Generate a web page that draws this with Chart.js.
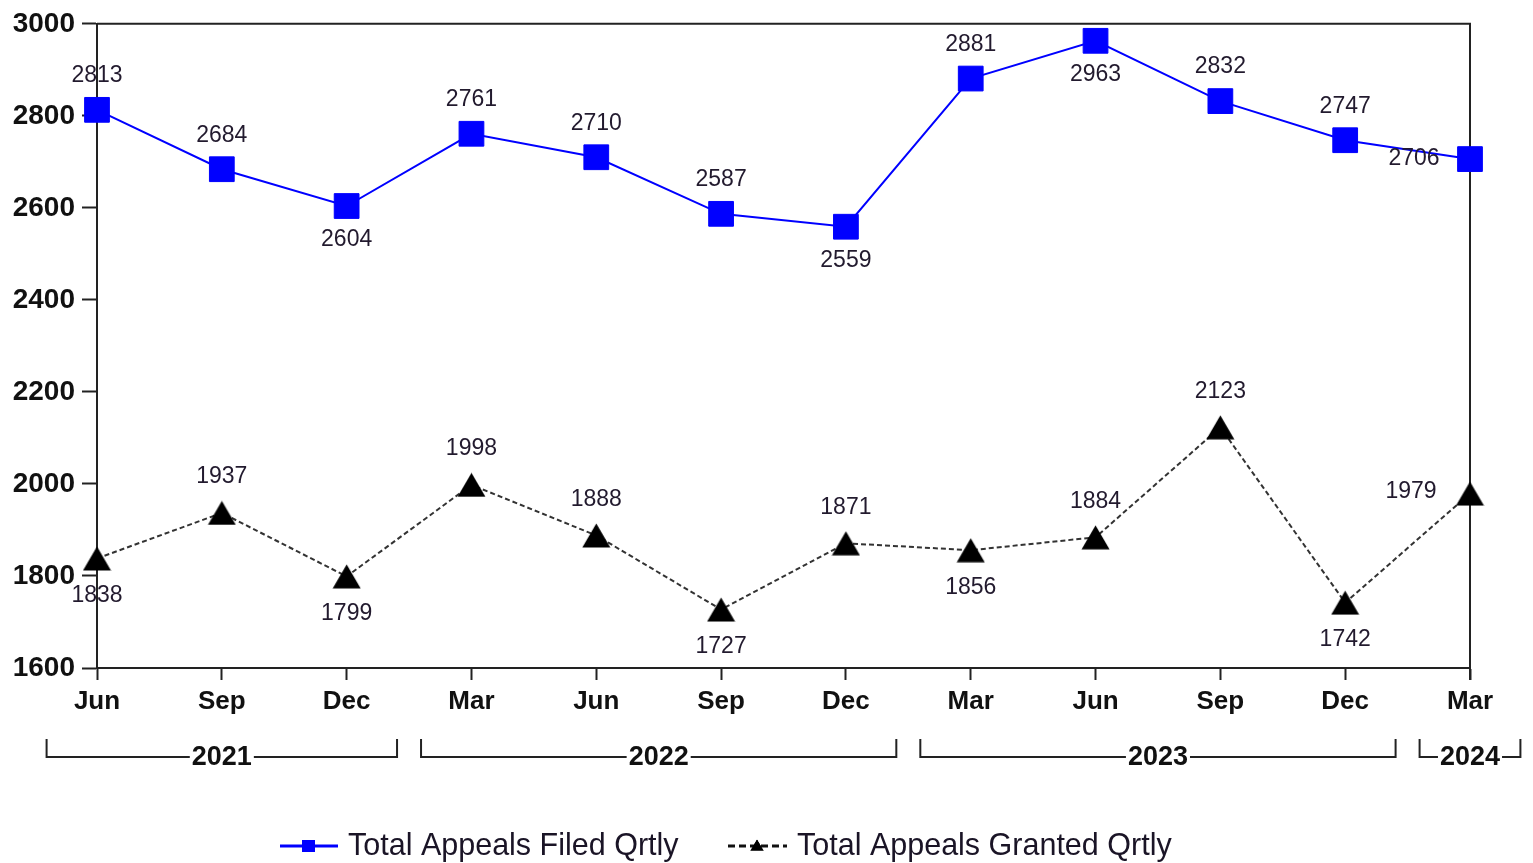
<!DOCTYPE html>
<html>
<head>
<meta charset="utf-8">
<script src="https://cdn.jsdelivr.net/npm/chart.js@4.4.1/dist/chart.umd.min.js"></script>
<style>
  body { margin: 0; background: #fff; }
  #wrap { width: 1533px; height: 863px; }
</style>
</head>
<body>
<div id="wrap"><canvas id="appealsChart"></canvas></div>
<script>
// quarter labels and the year each quarter belongs to
const quarters = ['Jun', 'Sep', 'Dec', 'Mar', 'Jun', 'Sep', 'Dec', 'Mar', 'Jun', 'Sep', 'Dec', 'Mar'];
const years = ['2021', '2021', '2021', '2022', '2022', '2022', '2022', '2023', '2023', '2023', '2023', '2024'];

const filedQrtly = [2813, 2684, 2604, 2761, 2710, 2587, 2559, 2881, 2963, 2832, 2747, 2706];
const grantedQrtly = [1838, 1937, 1799, 1998, 1888, 1727, 1871, 1856, 1884, 2123, 1742, 1979];

const yTicks = [1600, 1800, 2000, 2200, 2400, 2600, 2800, 3000];

// where each value label sits relative to its point
const filedLabelPos = ['up', 'up', 'down', 'up', 'up', 'up', 'down', 'up', 'down', 'up', 'up', 'left'];
const grantedLabelPos = ['down', 'up', 'down', 'up', 'up', 'down', 'up', 'down', 'up', 'up', 'down', 'leftup'];

const FONT = '"Liberation Sans", Arial, sans-serif';

function makeTriangle(w, h) {
    const c = document.createElement('canvas');
    c.width = w; c.height = h;
    const ctx = c.getContext('2d');
    ctx.fillStyle = '#000';
    ctx.beginPath();
    ctx.moveTo(w / 2, 0.5);
    ctx.lineTo(w - 0.5, h - 0.5);
    ctx.lineTo(0.5, h - 0.5);
    ctx.closePath();
    ctx.fill();
    return c;
}
const triMarker = makeTriangle(29, 25);

const valueLabels = {
    id: 'valueLabels',
    afterDatasetsDraw(chart) {
        const ctx = chart.ctx;
        ctx.save();
        ctx.font = '23px ' + FONT;
        ctx.fillStyle = '#221a2e';
        ctx.textAlign = 'center';
        ctx.textBaseline = 'middle';
        const posList = [filedLabelPos, grantedLabelPos];
        chart.data.datasets.forEach(function (ds, di) {
            const meta = chart.getDatasetMeta(di);
            meta.data.forEach(function (pt, i) {
                const txt = String(ds.data[i]);
                let x = pt.x, y = pt.y;
                const p = posList[di][i];
                if (p == 'up') { y -= (di == 0 ? 34 : 36); }
                else if (p == 'down') { y += (di == 0 ? 34 : 37); }
                else if (p == 'left') { x -= 56; }
                else if (p == 'leftup') { x -= 59; y -= 2; }
                ctx.fillText(txt, x, y);
            });
        });
        ctx.restore();
    }
};

const frameAndExtras = {
    id: 'frameAndExtras',
    beforeDatasetsDraw(chart) {
        const ctx = chart.ctx;
        const a = chart.chartArea;
        ctx.save();
        ctx.strokeStyle = '#222';
        ctx.lineWidth = 2;
        ctx.beginPath();
        ctx.moveTo(a.left, a.top);
        ctx.lineTo(a.right, a.top);
        ctx.lineTo(a.right, a.bottom + 12);
        ctx.stroke();
        ctx.restore();
    },
    afterDraw(chart) {
        const ctx = chart.ctx;
        const xs = chart.scales.x;
        const step = xs.getPixelForValue(1) - xs.getPixelForValue(0);
        ctx.save();

        // year brackets
        const yLine = 757, yTop = 739, gap = 12;
        ctx.strokeStyle = '#222';
        ctx.lineWidth = 2;
        ctx.font = 'bold 27px ' + FONT;
        ctx.fillStyle = '#111';
        ctx.textAlign = 'center';
        ctx.textBaseline = 'middle';
        let start = 0;
        for (let i = 1; i <= years.length; i++) {
            if (i == years.length || years[i] != years[start]) {
                const l = xs.getPixelForValue(start) - step / 2 + gap;
                const r = xs.getPixelForValue(i - 1) + step / 2 - gap;
                const mid = (l + r) / 2;
                const half = ctx.measureText(years[start]).width / 2 + 2;
                ctx.beginPath();
                ctx.moveTo(l, yTop);
                ctx.lineTo(l, yLine);
                ctx.lineTo(mid - half, yLine);
                ctx.moveTo(mid + half, yLine);
                ctx.lineTo(r, yLine);
                ctx.lineTo(r, yTop);
                ctx.stroke();
                ctx.fillText(years[start], mid, yLine + 1);
                start = i;
            }
        }

        // legend
        const ly = 846;
        ctx.font = '30.5px ' + FONT;
        ctx.textAlign = 'left';
        ctx.fillStyle = '#1a1426';
        ctx.strokeStyle = '#0000ff';
        ctx.lineWidth = 3;
        ctx.beginPath();
        ctx.moveTo(280, ly);
        ctx.lineTo(338, ly);
        ctx.stroke();
        ctx.fillStyle = '#0000ff';
        ctx.fillRect(302, ly - 6, 13, 12);
        ctx.fillStyle = '#1a1426';
        ctx.fillText('Total Appeals Filed Qrtly', 348, ly + 1);

        ctx.strokeStyle = '#111';
        ctx.lineWidth = 3;
        ctx.setLineDash([7, 4]);
        ctx.beginPath();
        ctx.moveTo(728, ly);
        ctx.lineTo(787, ly);
        ctx.stroke();
        ctx.setLineDash([]);
        ctx.drawImage(triMarker, 750, ly - 7, 14, 12);
        ctx.fillText('Total Appeals Granted Qrtly', 797, ly + 1);

        ctx.restore();
    }
};

const data = {
    labels: quarters,
    datasets: [
        {
            label: 'Total Appeals Filed Qrtly',
            data: filedQrtly,
            borderColor: '#0000ff',
            backgroundColor: '#0000ff',
            borderWidth: 2,
            pointStyle: 'rect',
            pointRadius: 17.5,
            pointBorderWidth: 1,
            pointBorderColor: '#0000ff',
            pointBackgroundColor: '#0000ff',
            tension: 0,
            clip: false
        },
        {
            label: 'Total Appeals Granted Qrtly',
            data: grantedQrtly,
            borderColor: '#333',
            backgroundColor: '#000',
            borderWidth: 2,
            borderDash: [5, 3],
            pointStyle: triMarker,
            pointRadius: 14,
            tension: 0,
            clip: false
        }
    ]
};

const config = {
    type: 'line',
    data: data,
    options: {
        responsive: true,
        maintainAspectRatio: false,
        animation: false,
        layout: {
            padding: { top: 23, right: 63, left: 0, bottom: 0 }
        },
        plugins: {
            legend: { display: false },
            title: { display: false },
            tooltip: { enabled: false }
        },
        scales: {
            x: {
                offset: false,
                grid: {
                    display: true,
                    drawOnChartArea: false,
                    drawTicks: true,
                    tickLength: 12,
                    tickWidth: 2,
                    tickColor: '#222'
                },
                border: { display: true, color: '#222', width: 2 },
                ticks: {
                    color: '#111',
                    padding: 6,
                    maxRotation: 0,
                    autoSkip: false,
                    font: { family: FONT, size: 26, weight: 'bold' }
                },
                afterFit(scale) { scale.height = 195; }
            },
            y: {
                min: 1600,
                max: 3000,
                afterBuildTicks(scale) {
                    scale.ticks = yTicks.map(function (v) { return { value: v }; });
                },
                grid: {
                    display: true,
                    drawOnChartArea: false,
                    drawTicks: true,
                    tickLength: 15,
                    tickWidth: 2,
                    tickColor: '#222'
                },
                border: { display: true, color: '#222', width: 2 },
                ticks: {
                    color: '#111',
                    padding: 7,
                    font: { family: FONT, size: 28, weight: 'bold' },
                    callback: function (v) { return String(v); }
                },
                afterFit(scale) { scale.width = 97; }
            }
        }
    },
    plugins: [frameAndExtras, valueLabels]
};

const myChart = new Chart(document.getElementById('appealsChart'), config);
</script>
</body>
</html>
